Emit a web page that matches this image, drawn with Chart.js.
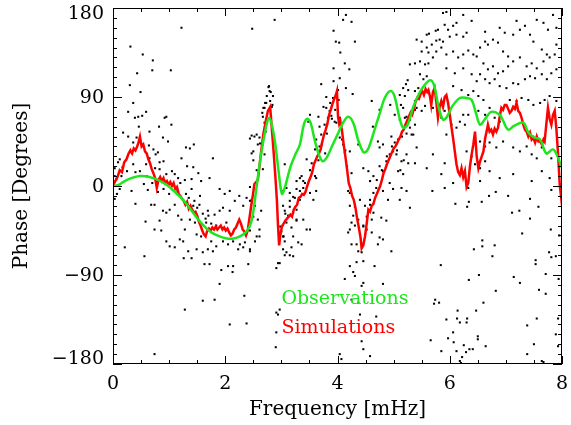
<!DOCTYPE html>
<html>
<head>
<meta charset="utf-8">
<script src="https://cdn.jsdelivr.net/npm/chart.js@4.4.1/dist/chart.umd.min.js"></script>
<style>
  html, body { margin: 0; padding: 0; background: #fff; }
  #wrap { width: 571px; height: 425px; }
</style>
</head>
<body>
<div id="wrap"><canvas id="phaseChart" width="571" height="425"></canvas></div>
<script>
// axes
const xTicks = [0, 2, 4, 6, 8];
const yTicks = [-180, -90, 0, 90, 180];
const xMinorStep = 0.5;
const yMinorStep = 10;

// observations (green, smooth)
const obsFreq = [0, 0.1, 0.24, 0.48, 0.72, 0.96, 1.1, 1.25, 1.4, 1.55, 1.73, 1.9, 2.03, 2.15, 2.26, 2.38, 2.47, 2.56, 2.62, 2.68, 2.74, 2.78, 2.83, 2.89, 2.95, 3.01, 3.06, 3.16, 3.25, 3.33, 3.4, 3.46, 3.52, 3.6, 3.68, 3.74, 3.82, 3.9, 4.0, 4.1, 4.19, 4.28, 4.37, 4.45, 4.49, 4.55, 4.65, 4.75, 4.85, 4.95, 5.02, 5.1, 5.17, 5.25, 5.35, 5.45, 5.55, 5.65, 5.72, 5.8, 5.88, 5.95, 6.05, 6.18, 6.3, 6.39, 6.46, 6.54, 6.62, 6.74, 6.89, 6.95, 7.04, 7.15, 7.31, 7.4, 7.5, 7.61, 7.72, 7.84, 7.92, 8.0];
const obsPhase = [0, 1, 6, 10, 8, 1, -6, -14, -25, -36, -46, -51, -53, -53, -51, -46, -35, 0, 25, 46, 63, 69, 62, 43, 15, -8, -2, 19, 32, 42, 62, 68, 64, 45, 30, 25, 30, 40, 52, 64, 70, 64, 46, 35, 34, 38, 55, 73, 90, 96, 90, 70, 59, 62, 80, 93, 102, 107, 102, 80, 67, 70, 81, 89, 89, 87, 75, 62, 67, 75, 72, 66, 57, 61, 64, 54, 49, 47, 33, 37, 30, 18];

// simulations (red, noisy)
const simFreq = [0, 0.04, 0.08, 0.12, 0.16, 0.2, 0.24, 0.28, 0.31, 0.34, 0.37, 0.4, 0.43, 0.45, 0.48, 0.51, 0.54, 0.57, 0.6, 0.63, 0.66, 0.69, 0.72, 0.75, 0.78, 0.81, 0.84, 0.87, 0.9, 0.93, 0.96, 0.99, 1.02, 1.05, 1.08, 1.11, 1.14, 1.17, 1.2, 1.23, 1.26, 1.29, 1.32, 1.35, 1.38, 1.41, 1.44, 1.47, 1.5, 1.53, 1.56, 1.59, 1.62, 1.65, 1.68, 1.71, 1.74, 1.77, 1.8, 1.83, 1.86, 1.89, 1.92, 1.95, 1.98, 2.01, 2.04, 2.07, 2.1, 2.13, 2.16, 2.19, 2.22, 2.25, 2.28, 2.31, 2.34, 2.37, 2.4, 2.43, 2.46, 2.49, 2.52, 2.55, 2.58, 2.61, 2.64, 2.68, 2.72, 2.76, 2.8, 2.83, 2.86, 2.89, 2.92, 2.94, 2.96, 2.98, 3.01, 3.04, 3.07, 3.1, 3.13, 3.16, 3.19, 3.22, 3.25, 3.28, 3.31, 3.34, 3.37, 3.4, 3.43, 3.46, 3.49, 3.52, 3.55, 3.58, 3.61, 3.64, 3.67, 3.7, 3.73, 3.76, 3.79, 3.82, 3.85, 3.88, 3.91, 3.94, 3.97, 3.99, 4.01, 4.03, 4.05, 4.08, 4.11, 4.14, 4.17, 4.2, 4.23, 4.26, 4.29, 4.32, 4.35, 4.38, 4.41, 4.43, 4.46, 4.49, 4.52, 4.55, 4.58, 4.61, 4.64, 4.67, 4.7, 4.73, 4.76, 4.79, 4.82, 4.85, 4.88, 4.91, 4.94, 4.97, 5.0, 5.03, 5.06, 5.09, 5.12, 5.15, 5.18, 5.21, 5.24, 5.27, 5.3, 5.33, 5.36, 5.39, 5.42, 5.45, 5.48, 5.51, 5.54, 5.57, 5.6, 5.62, 5.65, 5.67, 5.7, 5.73, 5.76, 5.79, 5.82, 5.85, 5.88, 5.91, 5.94, 5.97, 6.0, 6.03, 6.06, 6.09, 6.12, 6.15, 6.18, 6.21, 6.24, 6.27, 6.3, 6.33, 6.36, 6.39, 6.42, 6.45, 6.48, 6.51, 6.54, 6.57, 6.6, 6.63, 6.66, 6.68, 6.71, 6.74, 6.77, 6.8, 6.83, 6.86, 6.89, 6.92, 6.95, 6.98, 7.01, 7.04, 7.07, 7.1, 7.13, 7.16, 7.19, 7.22, 7.25, 7.28, 7.31, 7.34, 7.37, 7.4, 7.43, 7.46, 7.49, 7.52, 7.55, 7.58, 7.61, 7.64, 7.67, 7.69, 7.72, 7.75, 7.78, 7.81, 7.84, 7.87, 7.9, 7.93, 7.96, 7.98, 8.0];
const simPhase = [0, 5, 9, 16, 14, 24, 27, 33, 36, 33, 38, 36, 40, 43, 50, 40, 42, 35, 33, 27, 23, 17, 13, 8, -2, 6, 9, 5, 8, 3, 5, 1, 4, 0, 3, -3, -1, -8, -10, -13, -15, -19, -16, -23, -20, -24, -27, -26, -30, -36, -40, -45, -49, -51, -45, -43, -45, -42, -44, -41, -44, -42, -40, -44, -42, -45, -43, -47, -50, -48, -44, -42, -38, -34, -38, -44, -46, -50, -45, -33, -21, -10, 2, 4, 6, 20, 35, 53, 65, 76, 80, 58, 36, 12, -14, -40, -60, -50, -41, -38, -35, -33, -31, -29, -31, -24, -21, -19, -12, -11, -8, -9, -6, 0, 5, 9, 14, 22, 26, 30, 33, 37, 45, 52, 57, 63, 72, 77, 83, 88, 92, 96, 70, 63, 66, 56, 42, 30, 17, 3, -2, -10, -14, -22, -33, -42, -52, -63, -60, -51, -38, -24, -26, -20, -18, -12, -8, -4, 0, 6, 13, 17, 22, 26, 30, 34, 38, 40, 43, 47, 50, 55, 57, 62, 66, 70, 74, 72, 78, 85, 89, 88, 93, 96, 92, 98, 95, 97, 90, 82, 95, 99, 85, 69, 80, 86, 80, 90, 92, 84, 72, 60, 48, 35, 22, 14, 11, 18, 9, 15, -1, 3, 20, 32, 42, 55, 30, 18, 25, 30, 35, 48, 56, 62, 55, 57, 52, 58, 55, 59, 70, 79, 77, 82, 82, 78, 74, 76, 80, 78, 84, 76, 74, 69, 62, 57, 55, 50, 54, 47, 49, 44, 50, 45, 45, 42, 47, 45, 62, 79, 68, 62, 72, 76, 58, 32, 1, -9, 3];

// individual phase measurements (black dots): [frequency, phase]
const dots = [
  [1.22,160],[0.31,141],[0.53,133],[0.71,127],[0.70,117],[1.03,117],[0.43,114],[0.30,102],[0.49,95],[0.36,84],
  [0.27,75],[0.59,75],[0.52,71],[0.39,69],[0.45,70],[0.95,70],[0.92,69],[0.46,60],[1.04,62],[0.82,60],
  [0.65,55],[0.18,54],[0.27,50],[0.89,49],[0.98,45],[0.42,49],[0.36,44],[0.51,42],[0.64,41],[0.72,37],
  [0.80,34],[0.76,32],[0.90,25],[0.83,24],[0.65,28],[0.59,22],[0.12,27],[0.09,24],[0.17,19],[0.03,18],
  [0.36,22],[0.40,14],[0.25,15],[0.48,15],[0.83,17],[1.10,12],[1.22,28],[1.30,39],[1.37,38],[1.44,42],
  [1.32,20],[1.43,19],[1.52,13],[1.78,28],[1.57,5],[1.40,7],[1.72,8],[0.03,10],[0.06,7],[0.15,10],
  [2.48,159],[2.47,51],[2.52,50],[2.61,49],[2.58,42],[2.50,35],[2.66,74],[1.16,8],[1.28,6],
  [0.33,-5],[0.40,-18],[0.12,-3],[0.07,-8],[0.03,-13],[0.21,-62],[0.56,-71],[0.58,-36],[0.68,-19],[0.74,-19],
  [0.83,-35],[0.74,-44],[0.86,-45],[0.95,-56],[1.01,-61],[1.10,-62],[0.89,-25],[0.95,-27],[1.01,-24],[1.10,-19],
  [1.16,-30],[1.22,-34],[1.28,-44],[1.19,-54],[1.25,-56],[1.26,-73],[1.40,-73],[1.34,-66],[1.49,-49],[1.57,-51],
  [1.63,-79],[1.72,-79],[1.49,-64],[1.60,-67],[1.69,-64],[1.78,-66],[1.43,-20],[1.54,-19],[1.69,-25],[1.81,-29],
  [1.90,-25],[1.96,-22],[1.66,-37],[1.84,-40],[2.02,-37],[2.08,-25],[2.17,-15],[2.25,-10],[2.32,-20],[2.05,-81],
  [2.14,-81],[1.93,-85],[2.13,-87],[1.90,-99],[1.81,-115],[1.60,-116],[1.28,-125],[2.08,-140],[2.38,-139],[2.34,-111],
  [2.41,-79],[2.44,-64],[2.53,-56],[2.61,-51],[2.23,-64],[2.32,-62],[0.74,-170],[1.96,-56],[2.05,-59],[2.14,-56],
  [2.26,-59],[2.35,-57],[1.84,-61],[1.75,-56],[1.37,-34],[1.46,-37],[1.99,-8],[2.08,-5],[1.90,-3],[2.38,-12],
  [2.44,-15],[2.53,-20],[2.61,-44],[2.58,-34],[2.64,-25],
  [0.55,2],[0.62,-4],[0.70,3],[0.80,-6],[0.90,-3],[1.00,-8],[0.95,12],[1.05,15],[0.75,18],[0.60,10],
  [1.15,-5],[1.20,3],[1.30,-8],[1.35,-12],[1.45,-15],[1.50,-22],[1.60,-28],[1.65,-33],[1.70,-30],[1.75,-38],
  [1.55,-10],[1.40,-3],
  [2.88,168],[4.15,173],[4.10,168],[4.25,166],[3.93,157],[3.97,146],[4.03,145],[4.31,146],[4.05,135],[4.13,124],
  [3.93,119],[4.21,118],[4.04,109],[3.93,106],[3.71,103],[4.15,99],[4.27,93],[3.80,90],[4.61,86],[5.29,123],
  [5.25,107],[5.22,103],[5.17,99],[5.26,97],[5.11,92],[5.20,91],[4.75,77],[4.94,82],[5.13,82],[5.17,79],
  [5.02,72],[5.11,67],[5.20,69],[2.78,101],[2.79,96],[2.85,91],[2.74,91],[2.73,84],[2.80,86],[2.84,82],
  [2.70,79],[2.67,70],[2.70,64],[2.72,55],[2.67,42],[2.70,32],[2.67,17],[3.51,72],[3.48,65],[3.68,60],
  [3.77,62],[3.71,52],[3.80,79],[3.86,76],[3.89,71],[3.83,69],[3.95,65],[3.98,64],[4.04,69],[3.62,47],
  [3.68,40],[3.45,27],[3.54,23],[3.60,37],[3.36,10],[3.39,5],[3.27,5],[3.33,8],[3.06,22],[3.62,8],
  [4.63,60],[4.72,45],[4.81,42],[4.75,39],[4.96,50],[5.02,44],[5.08,47],[4.99,35],[5.05,32],[5.23,32],
  [5.14,25],[4.93,32],[4.87,25],[4.55,15],[4.64,10],[4.58,5],[4.37,42],[4.46,18],[4.75,20],[4.81,15],
  [4.93,3],[5.08,15],[5.17,12],[4.13,34],[4.22,35],[4.04,49],[4.10,42],[5.29,59],[5.32,52],[4.01,97],
  [3.92,89],[5.32,76],[5.23,70],
  [2.77,100],[2.81,95],[2.71,84],[2.68,79],[2.83,80],[2.56,52],[2.62,43],[2.44,48],[2.47,33],[2.50,26],
  [2.56,16],[2.44,-1],[2.47,-14],[2.50,-31],[2.44,-45],[2.56,-51],[2.44,-66],
  [3.07,-28],[2.98,-41],[3.04,-51],[3.15,-21],[3.27,-34],[3.33,-14],[3.21,-11],[3.42,3],[3.51,16],[3.60,10],
  [3.66,26],[3.72,42],[3.78,33],[3.81,53],[3.90,68],[3.87,84],[3.96,77],[4.02,87],[3.75,80],[3.66,70],
  [4.08,47],[4.14,36],[4.17,20],[4.25,13],[4.22,-7],[4.31,-21],[4.37,-34],[4.46,-41],[4.52,-31],[4.58,-14],
  [4.64,-7],[4.70,6],[4.79,16],[4.88,30],[4.97,40],[5.06,36],[5.15,50],[5.23,53],[5.29,67],[5.38,77],
  [5.18,26],[5.26,23],[5.12,16],
  [3.03,-5],[3.09,-2],[3.15,-7],[3.27,-3],[3.33,-5],[3.39,-2],[3.42,-7],[3.51,-7],[3.57,-14],[3.62,-5],
  [3.03,-20],[3.15,-15],[3.24,-12],[3.06,-25],[3.12,-30],[3.21,-27],[3.27,-24],[3.09,-37],[3.18,-42],[3.27,-35],
  [3.39,-34],[3.00,-46],[3.03,-51],[3.06,-56],[3.21,-51],[3.30,-57],[3.36,-59],[3.18,-62],[3.03,-64],[3.09,-67],
  [3.06,-70],[3.15,-70],[3.21,-71],[2.94,-78],[2.91,-83],[2.97,-78],[3.45,-44],[3.51,-44],[2.91,-128],[2.94,-130],
  [2.97,-125],[2.91,-148],[2.90,-163],[4.19,-5],[4.22,-20],[4.28,-30],[4.25,-37],[4.31,-40],[4.22,-44],[4.19,-47],
  [4.40,-14],[4.49,-20],[4.58,-19],[4.64,-27],[4.61,-34],[4.52,-44],[4.61,-47],[4.46,-40],[4.72,-59],[4.75,-52],
  [4.81,-54],[4.34,-59],[4.37,-66],[4.43,-67],[4.25,-59],[4.22,-81],[4.46,-76],[4.34,-77],[4.28,-87],[4.31,-91],
  [4.46,-98],[4.43,-101],[4.13,-94],[4.66,-81],[4.81,-99],[4.25,-115],[4.37,-118],[4.40,-130],[4.43,-157],[4.46,-165],
  [4.58,-172],[4.04,-170],[4.07,-175],[4.69,-132],[4.90,-14],[4.99,-3],[5.11,-14],[5.23,-5],[5.29,-22],[5.14,-2],
  [4.78,-32],[4.87,-35],[4.96,-66],[4.81,-5],[4.69,-2],
  [5.94,176],[5.88,175],[6.24,173],[6.39,167],[6.63,156],[6.12,165],[6.06,162],[5.97,158],[5.91,163],[5.79,158],
  [5.75,157],[5.63,154],[5.59,153],[6.00,151],[6.12,153],[6.24,151],[6.30,155],[5.82,148],[5.88,146],[5.76,147],
  [5.68,143],[5.50,146],[5.41,148],[5.59,140],[5.50,136],[5.62,135],[5.70,130],[5.38,124],[5.47,126],[5.56,123],
  [5.62,124],[5.76,136],[5.85,140],[5.94,133],[6.06,136],[6.15,130],[6.24,133],[6.33,137],[6.42,133],[6.48,131],
  [6.54,140],[6.63,146],[6.68,143],[6.77,148],[6.86,145],[6.89,160],[6.98,155],[7.13,153],[7.19,167],[7.25,158],
  [7.34,162],[7.43,153],[7.49,146],[7.55,168],[7.67,165],[7.75,158],[7.84,173],[7.64,138],[7.73,133],[7.78,130],
  [7.87,133],[6.95,136],[7.04,131],[7.13,126],[7.25,130],[7.37,121],[7.46,124],[7.55,119],[7.67,126],[6.60,124],
  [6.68,118],[6.77,121],[6.86,114],[6.95,116],[7.04,121],[6.54,113],[6.63,108],[6.71,104],[6.80,108],[6.89,101],
  [7.01,99],[7.13,104],[7.22,103],[7.34,108],[7.43,111],[7.52,109],[7.64,113],[7.73,108],[7.81,114],[7.90,118],
  [5.94,119],[6.09,114],[6.24,119],[6.39,113],[6.48,106],[6.06,101],[6.21,97],[6.33,92],[6.42,96],[6.51,91],
  [6.60,87],[6.24,72],[6.18,65],[6.27,62],[6.33,72],[6.51,76],[6.63,72],[6.71,79],[6.80,69],[6.89,65],
  [7.07,87],[7.19,86],[7.28,89],[7.40,87],[7.49,82],[7.61,84],[7.69,87],[7.78,91],[7.90,86],[5.38,96],
  [5.44,99],[5.53,108],[5.47,113],[5.59,111],[5.38,86],[5.41,79],[5.50,76],[5.56,81],[5.65,89],[5.70,79],
  [5.79,72],[5.85,69],[5.91,76],[6.03,62],[6.12,59],[5.94,52],[6.54,45],[6.63,40],[6.71,44],[6.83,39],
  [6.95,45],[6.30,35],[6.39,30],[6.45,22],[6.54,18],[6.63,25],[7.13,39],[7.25,35],[7.37,40],[7.46,32],
  [7.55,28],[7.64,39],[7.73,33],[7.81,28],[5.38,23],[5.41,39],[5.35,52],[5.38,62],[5.85,12],[5.91,23],
  [6.06,3],[6.54,5],[6.71,15],[6.89,8],[7.13,12],[7.46,5],[7.64,15],[7.78,8],[5.70,32],[5.59,18],
  [7.90,160],[7.90,143],
  [5.69,-5],[5.91,-2],[6.33,-2],[6.82,-6],[6.70,-10],[7.04,-10],[7.43,-13],[7.81,-4],[6.10,-18],[6.34,-16],
  [6.31,-21],[6.57,-16],[7.11,-27],[7.24,-25],[7.58,-21],[7.43,-33],[7.80,-44],[7.95,-50],[7.29,-48],[6.58,-55],
  [6.58,-61],[6.43,-64],[6.80,-60],[6.76,-71],[7.77,-67],[7.81,-72],[7.89,-71],[7.53,-75],[7.53,-79],[5.84,-80],
  [6.52,-90],[6.34,-95],[7.14,-92],[7.25,-98],[7.71,-89],[7.94,-94],[6.82,-106],[7.59,-105],[7.71,-109],[5.74,-115],
  [5.81,-118],[5.72,-119],[6.60,-118],[6.14,-126],[6.47,-126],[5.94,-135],[6.13,-134],[6.31,-134],[6.18,-138],[6.30,-138],
  [7.55,-134],[7.93,-134],[7.38,-141],[6.06,-148],[7.89,-150],[5.97,-154],[6.07,-158],[6.50,-152],[6.50,-155],[5.66,-156],
  [6.25,-161],[7.50,-160],[6.64,-162],[6.41,-165],[6.35,-165],[6.29,-168],[5.85,-167],[6.12,-167],[7.93,-162],[6.22,-173],
  [6.18,-177],[6.20,-179],[7.38,-170],[7.64,-177],[7.67,-178]
];

const SERIF = '"DejaVu Serif", "Liberation Serif", serif';
const GREEN = '#1ee61e';
const RED = '#ff0000';

function pairs(xs, ys) {
  return xs.map((x, i) => ({ x: x, y: ys[i] }));
}

function fmt(v) {
  return v < 0 ? '\u2212' + Math.abs(v) : String(v);
}

// IDL-like frame: box, inward ticks on all sides, y labels kept inside the box
const idlFrame = {
  id: 'idlFrame',
  afterDatasetsDraw(chart) {
    const { ctx, chartArea: a, scales: { x, y } } = chart;
    ctx.save();
    ctx.strokeStyle = '#000';
    ctx.lineWidth = 1;
    ctx.strokeRect(a.left + 0.5, a.top + 0.5, a.right - a.left - 1, a.bottom - a.top - 1);

    ctx.beginPath();
    for (let v = x.min; v <= x.max + 1e-9; v += xMinorStep) {
      const px = Math.round(x.getPixelForValue(v)) + 0.5;
      const len = xTicks.includes(v) ? 8 : 4;
      ctx.moveTo(px, a.bottom); ctx.lineTo(px, a.bottom - len);
      ctx.moveTo(px, a.top); ctx.lineTo(px, a.top + len);
    }
    for (let v = y.min; v <= y.max + 1e-9; v += yMinorStep) {
      const py = Math.round(y.getPixelForValue(v)) + 0.5;
      const len = yTicks.includes(v) ? 9 : 4;
      ctx.moveTo(a.left, py); ctx.lineTo(a.left + len, py);
      ctx.moveTo(a.right, py); ctx.lineTo(a.right - len, py);
    }
    ctx.stroke();

    ctx.fillStyle = '#000';
    ctx.font = '19px ' + SERIF;
    ctx.textAlign = 'right';
    y.ticks.forEach(t => {
      let py = y.getPixelForValue(t.value);
      if (t.value === y.max) { ctx.textBaseline = 'top'; py -= 3; }
      else if (t.value === y.min) { ctx.textBaseline = 'alphabetic'; }
      else { ctx.textBaseline = 'middle'; py += 1; }
      ctx.fillText(fmt(t.value), a.left - 9, py);
    });

    // legend words inside the plot
    ctx.textAlign = 'left';
    ctx.textBaseline = 'alphabetic';
    ctx.font = '19px ' + SERIF;
    ctx.fillStyle = GREEN;
    ctx.fillText('Observations', x.getPixelForValue(3.0), y.getPixelForValue(-119));
    ctx.fillStyle = RED;
    ctx.fillText('Simulations', x.getPixelForValue(3.0), y.getPixelForValue(-149));
    ctx.restore();
  }
};

const ctx = document.getElementById('phaseChart').getContext('2d');
const phaseChart = new Chart(ctx, {
  type: 'scatter',
  data: {
    datasets: [
      {
        label: 'Observations',
        data: pairs(obsFreq, obsPhase),
        showLine: true,
        borderColor: GREEN,
        borderWidth: 2.5,
        pointRadius: 0,
        tension: 0.35,
        order: 0,
      },
      {
        label: 'Simulations',
        data: pairs(simFreq, simPhase),
        showLine: true,
        borderColor: RED,
        borderWidth: 2.5,
        pointRadius: 0,
        tension: 0,
        order: 1,
      },
      {
        label: 'Measurements',
        data: dots.map(d => ({ x: d[0], y: d[1] })),
        pointStyle: 'rect',
        pointRadius: 1.45,
        borderWidth: 0,
        backgroundColor: '#000',
        order: 2,
      },
    ],
  },
  options: {
    responsive: false,
    animation: false,
    layout: { padding: { top: 8, right: 9, left: 0, bottom: 0 } },
    plugins: { legend: { display: false }, tooltip: { enabled: false } },
    scales: {
      x: {
        type: 'linear',
        min: 0,
        max: 8,
        afterBuildTicks: s => { s.ticks = xTicks.map(v => ({ value: v })); },
        afterFit: s => { s.height = 61; s.paddingLeft = 0; s.paddingRight = 0; },
        grid: { display: false, drawTicks: false },
        border: { display: false },
        ticks: { color: '#000', font: { family: SERIF, size: 19 }, padding: 9, maxRotation: 0 },
        title: { display: true, text: 'Frequency [mHz]', color: '#000', font: { family: SERIF, size: 20 }, padding: { top: 0, bottom: 3 } },
      },
      y: {
        type: 'linear',
        min: -180,
        max: 180,
        afterBuildTicks: s => { s.ticks = yTicks.map(v => ({ value: v })); },
        afterFit: s => { s.width = 113; s.paddingTop = 0; s.paddingBottom = 0; },
        grid: { display: false, drawTicks: false },
        border: { display: false },
        ticks: { display: false },
        title: { display: true, text: 'Phase [Degrees]', color: '#000', font: { family: SERIF, size: 20 }, padding: { top: 10, bottom: 0 } },
      },
    },
  },
  plugins: [idlFrame],
});
</script>
</body>
</html>
